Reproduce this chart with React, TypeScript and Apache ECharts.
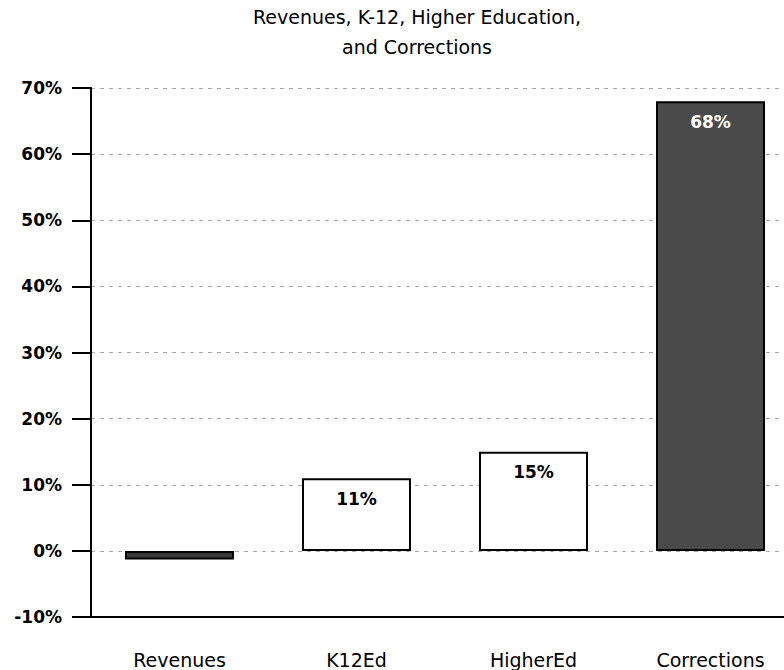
import React, { useEffect, useRef } from "react";
import * as echarts from "echarts";

const categories = ["Revenues", "K12Ed", "HigherEd", "Corrections"];
const values = [-1.3, 11, 15, 68];
const labels = ["", "11%", "15%", "68%"];
const titleText = "Revenues, K-12, Higher Education,\nand Corrections";

export default function App() {
  const ref = useRef<HTMLDivElement>(null);
  useEffect(() => {
    if (!ref.current) return;
    const chart = echarts.init(ref.current, null, { renderer: "svg" });
    const fills = ["#3a3a3a", "#ffffff", "#ffffff", "#4a4a4a"];
    chart.setOption({
      animation: false,
      backgroundColor: "#ffffff",
      textStyle: { fontFamily: "DejaVu Sans" },
      title: {
        text: titleText,
        left: 412,
        top: -3,
        textAlign: "center",
        textStyle: {
          fontFamily: "DejaVu Sans",
          fontSize: 19,
          fontWeight: "normal",
          color: "#000",
          lineHeight: 30,
        },
      },
      grid: { left: 91, right: 21, top: 88, bottom: 53, containLabel: false },
      xAxis: {
        type: "category",
        data: categories,
        axisLine: { onZero: false, lineStyle: { color: "#000", width: 2 } },
        axisTick: { alignWithLabel: true, length: 20, lineStyle: { color: "#000", width: 2 } },
        axisLabel: { color: "#000", fontSize: 19, margin: 33, fontFamily: "DejaVu Sans" },
        splitLine: { show: false },
      },
      yAxis: {
        type: "value",
        min: -10,
        max: 70,
        interval: 10,
        axisLine: { show: true, lineStyle: { color: "#000", width: 2 } },
        axisTick: { show: true, length: 19, lineStyle: { color: "#000", width: 2 } },
        axisLabel: {
          color: "#000",
          fontSize: 17,
          fontWeight: "bold",
          margin: 29,
          fontFamily: "DejaVu Sans",
          formatter: (v: number) => v + "%",
        },
        splitLine: { show: true, lineStyle: { color: "#aaa", width: 1, type: [4, 5] } },
      },
      series: [
        {
          type: "bar",
          barWidth: 109,
          data: values.map((v, i) => ({
            value: v,
            itemStyle: { color: fills[i], borderColor: "#000", borderWidth: 2 },
            label: {
              show: labels[i] !== "",
              position: "insideTop",
              distance: 12,
              formatter: labels[i],
              color: i === 3 ? "#fff" : "#000",
              fontSize: 17,
              fontWeight: "bold",
              fontFamily: "DejaVu Sans",
            },
          })),
        },
      ],
    });
    return () => chart.dispose();
  }, []);
  return (
    <div
      style={{ position: "absolute", left: 0, top: 0, width: 784, height: 670, overflow: "hidden" }}
    >
      <div ref={ref} style={{ width: 820, height: 670 }} />
    </div>
  );
}
